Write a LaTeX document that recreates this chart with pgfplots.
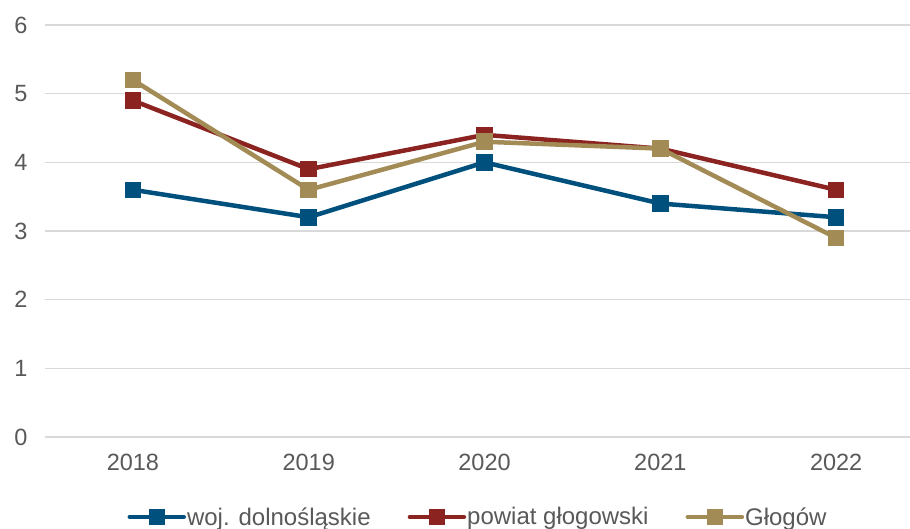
\documentclass[border=0pt]{standalone}
\usepackage{pgfplots}
\pgfplotsset{compat=1.18}
\usepackage{fontspec}
\setmainfont{Liberation Sans}
\definecolor{cblue}{HTML}{00507D}
\definecolor{cred}{HTML}{8B2320}
\definecolor{cgold}{HTML}{A38B55}
\definecolor{cgrid}{HTML}{D9D9D9}
\definecolor{ctext}{HTML}{595959}
\begin{document}
\begin{tikzpicture}
\begin{axis}[
  scale only axis,
  width=865pt, height=412pt,
  xmin=2017.5, xmax=2022.42,
  ymin=0, ymax=6,
  xtick={2018,2019,2020,2021,2022},
  ytick={0,1,2,3,4,5,6},
  xticklabel style={/pgf/number format/1000 sep={}},
  /pgf/number format/assume math mode=true,
  ymajorgrids,
  grid style={cgrid, line width=1.5pt},
  axis line style={draw=none},
  major tick length=0pt,
  tick label style={font=\fontsize{23.5}{27}\selectfont, text=ctext},
  yticklabel style={xshift=-14pt},
  xticklabel style={yshift=-14pt},
  legend columns=3,
  legend style={draw=none, at={(0.5,-0.194)}, anchor=center,
    font=\fontsize{24}{28}\selectfont, text=ctext,
    nodes={inner xsep=1pt},
    /tikz/every even column/.append style={column sep=36pt}},
  legend cell align=left,
  legend image code/.code={\draw[mark repeat=2,mark phase=2,line cap=round,#1] plot coordinates {(0pt,0pt) (27pt,0pt) (54pt,0pt)};},
  every axis plot/.append style={line width=4.5pt, mark=square*, mark size=6pt, mark options={solid, line width=1pt}},
]
\coordinate (bl) at (rel axis cs:0,0);
\addplot[cblue, mark options={fill=cblue, draw=cblue}] coordinates {(2018,3.6) (2019,3.2) (2020,4.0) (2021,3.4) (2022,3.2)};
\addlegendentry{woj. dolnośląskie}
\addplot[cred, mark options={fill=cred, draw=cred}] coordinates {(2018,4.9) (2019,3.9) (2020,4.4) (2021,4.2) (2022,3.6)};
\addlegendentry{powiat głogowski}
\addplot[cgold, mark options={fill=cgold, draw=cgold}] coordinates {(2018,5.2) (2019,3.6) (2020,4.3) (2021,4.2) (2022,2.9)};
\addlegendentry{Głogów}
\end{axis}
\pgfresetboundingbox
\path (bl) ++(-45pt,-92pt) rectangle ++(910pt,529pt);
\end{tikzpicture}
\end{document}
